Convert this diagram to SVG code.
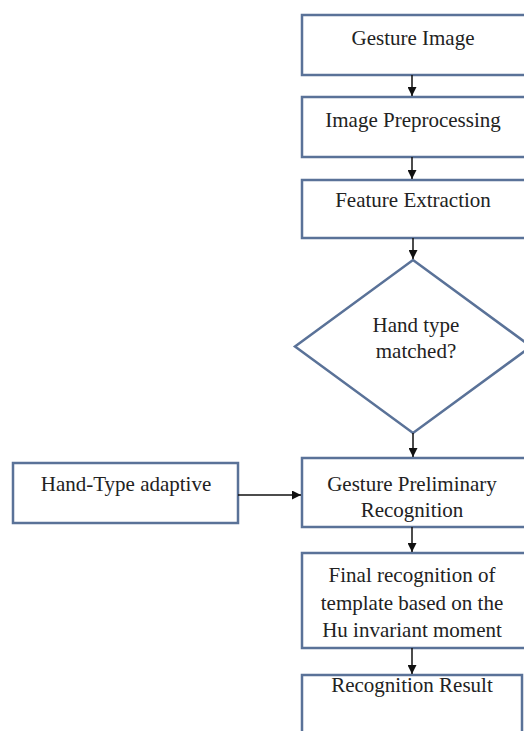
<svg xmlns="http://www.w3.org/2000/svg" width="524" height="731" viewBox="0 0 524 731">
<defs>
<style>
.box{fill:#ffffff;stroke:#5a7298;stroke-width:2.5}
.t{font-family:"Liberation Serif","Times New Roman",serif;font-size:21px;fill:#222;text-anchor:middle}
.c{stroke:#111;stroke-width:1.5;fill:none}
</style>
<marker id="ah" viewBox="0 0 10 10" refX="10" refY="5" markerWidth="9" markerHeight="9" orient="auto" markerUnits="userSpaceOnUse">
<path d="M0,0 L10,5 L0,10 Z" fill="#111"/>
</marker>
</defs>
<rect width="524" height="731" fill="#ffffff"/>
<g id="n1"><rect class="box" x="302" y="15" width="226" height="60"/><text class="t" x="413" y="45">Gesture Image</text></g>
<g id="n2"><rect class="box" x="302" y="97" width="226" height="60"/><text class="t" x="413" y="127">Image Preprocessing</text></g>
<g id="n3"><rect class="box" x="302" y="180" width="226" height="58"/><text class="t" x="413" y="207">Feature Extraction</text></g>
<g id="n4"><polygon class="box" points="413,260 531,346.5 413,433 295,346.5"/><text class="t" x="416" y="332">Hand type</text><text class="t" x="416" y="358">matched?</text></g>
<g id="n5"><rect class="box" x="13" y="463" width="225" height="60"/><text class="t" x="126" y="491">Hand-Type adaptive</text></g>
<g id="n6"><rect class="box" x="302" y="458" width="226" height="69"/><text class="t" x="412" y="491">Gesture Preliminary</text><text class="t" x="412" y="517">Recognition</text></g>
<g id="n7"><rect class="box" x="302" y="553" width="226" height="95"/><text class="t" x="412" y="582">Final recognition of</text><text class="t" x="412" y="610">template based on the</text><text class="t" x="412" y="637">Hu invariant moment</text></g>
<g id="n8"><rect class="box" x="302" y="675" width="220" height="70"/><text class="t" x="412" y="692">Recognition Result</text></g>
<g id="connectors">
<line class="c" x1="412" y1="75" x2="412" y2="96" marker-end="url(#ah)"/>
<line class="c" x1="412" y1="157" x2="412" y2="179" marker-end="url(#ah)"/>
<line class="c" x1="413" y1="238" x2="413" y2="259" marker-end="url(#ah)"/>
<line class="c" x1="413" y1="433" x2="413" y2="457" marker-end="url(#ah)"/>
<line class="c" x1="238" y1="495" x2="301" y2="495" marker-end="url(#ah)"/>
<line class="c" x1="412" y1="527" x2="412" y2="552" marker-end="url(#ah)"/>
<line class="c" x1="412" y1="648" x2="412" y2="674" marker-end="url(#ah)"/>
</g>
</svg>
